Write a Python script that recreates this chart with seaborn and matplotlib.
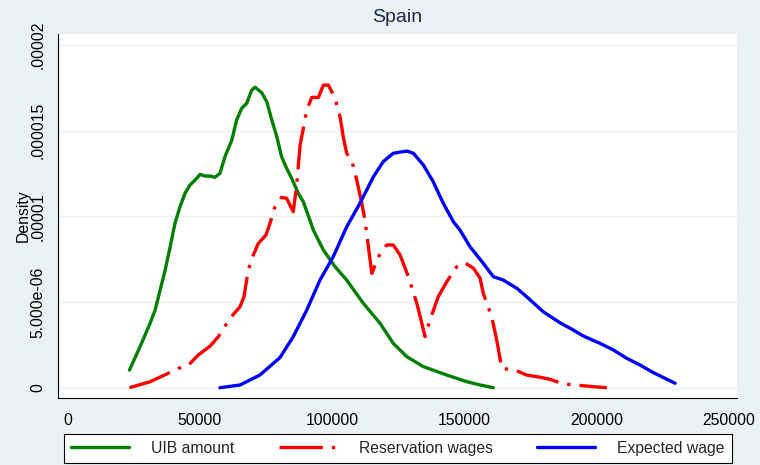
import numpy as np
import seaborn as sns
import matplotlib
matplotlib.use("Agg")
import matplotlib.pyplot as plt

# ---------------------------------------------------------------------------
# data (x in thousand euros, density in units of 1e-6)
# ---------------------------------------------------------------------------
uib_x = [23.4, 27.4, 31.2, 33.1, 35.0, 36.9, 38.8, 40.6, 42.5, 44.4, 46.3, 48.2,
         50.1, 52.0, 53.9, 55.7, 57.6, 59.5, 62.1, 63.9, 65.8, 67.7, 69.6, 70.9,
         73.4, 75.3, 77.2, 79.1, 80.9, 82.8, 84.7, 87.2, 89.1, 91.6, 92.9, 96.7,
         101.1, 105.5, 111.8, 118.1, 123.1, 128.2, 134.5, 143.3, 150.9, 155.9, 160.9]
uib_d = [1.03, 2.39, 3.76, 4.53, 5.70, 6.87, 8.23, 9.59, 10.56, 11.34, 11.83, 12.12,
         12.45, 12.35, 12.35, 12.28, 12.51, 13.48, 14.45, 15.62, 16.30, 16.59, 17.37, 17.53,
         17.21, 16.69, 15.62, 14.64, 13.48, 12.80, 12.22, 11.34, 10.85, 9.78, 9.20, 8.03,
         7.06, 6.28, 4.92, 3.76, 2.59, 1.81, 1.23, 0.74, 0.35, 0.16, 0.0]

res_x = [23.4, 31.2, 37.5, 41.9, 45.7, 49.4, 53.9, 57.0, 61.4, 65.2, 66.7, 68.3,
         70.2, 72.1, 75.0, 76.5, 78.4, 80.9, 82.8, 85.3, 86.6, 87.9, 89.1, 90.4,
         92.3, 94.8, 96.7, 98.6, 101.1, 103.0, 104.2, 105.5, 107.4, 109.3, 111.2, 112.4,
         113.7, 115.0, 117.5, 120.6, 123.1, 125.7, 128.8, 132.0, 133.9, 135.1, 137.0, 140.1,
         143.3, 147.1, 150.2, 153.4, 155.9, 157.1, 160.3, 162.2, 164.1, 169.1, 173.5, 178.6,
         182.3, 187.4, 191.8, 198.7, 203.8]
res_d = [0.0, 0.35, 0.80, 1.13, 1.32, 1.91, 2.43, 2.98, 4.05, 4.73, 5.31, 6.87,
         7.74, 8.42, 8.91, 9.59, 10.56, 11.11, 11.05, 10.27, 11.83, 14.16, 15.13, 16.20,
         16.94, 16.94, 17.66, 17.66, 16.88, 15.81, 14.64, 13.68, 13.28, 12.12, 10.76, 9.78,
         8.23, 6.67, 7.64, 8.33, 8.33, 7.74, 6.48, 4.92, 3.76, 2.98, 3.95, 5.31,
         6.18, 7.06, 7.29, 6.97, 6.40, 5.51, 4.14, 2.78, 1.13, 1.03, 0.74, 0.61,
         0.49, 0.22, 0.16, 0.06, 0.0]

exp_x = [57.6, 65.2, 72.7, 80.3, 85.3, 90.4, 95.4, 100.4, 105.5, 110.5, 115.6, 119.3,
         123.1, 128.2, 130.7, 134.5, 138.2, 142.0, 145.8, 148.3, 152.1, 157.1, 160.9, 164.7,
         169.8, 173.5, 179.8, 186.1, 191.1, 194.9, 201.2, 206.3, 211.3, 216.4, 221.4, 229.6]
exp_d = [0.0, 0.16, 0.74, 1.76, 2.98, 4.53, 6.28, 7.64, 9.39, 10.76, 12.31, 13.19,
         13.68, 13.81, 13.68, 12.99, 12.02, 10.76, 9.69, 9.20, 8.23, 7.26, 6.48, 6.28,
         5.80, 5.31, 4.43, 3.79, 3.37, 3.02, 2.59, 2.20, 1.72, 1.32, 0.88, 0.26]

x_ticks = [0, 50000, 100000, 150000, 200000, 250000]
y_ticks = [0, 5e-6, 1e-5, 1.5e-5, 2e-5]
y_ticklabels = ["0", "5.000e-06", ".00001", ".000015", ".00002"]

# ---------------------------------------------------------------------------
# style (Stata s2color look)
# ---------------------------------------------------------------------------
BG = "#eaf2f3"
sns.set_style("white")
plt.rcParams["font.family"] = ["Liberation Sans", "DejaVu Sans"]

fig = plt.figure(figsize=(7.6, 4.65), dpi=100, facecolor=BG)
ax = fig.add_axes([58 / 760, 1 - 398 / 465, 679 / 760, 364 / 465])
ax.set_facecolor("white")

series = [
    (uib_x, uib_d, "UIB amount", "#008000", "-"),
    (res_x, res_d, "Reservation wages", "#ff0000", (0, (13, 2.7, 1, 2.7))),
    (exp_x, exp_d, "Expected wage", "#0000ff", "-"),
]
for xs, ds, name, col, ls in series:
    sns.lineplot(x=np.array(xs) * 1000, y=np.array(ds) * 1e-6, ax=ax,
                 estimator=None, sort=False, color=col, linewidth=2.4,
                 linestyle=ls, label=name)

ax.set_xlim(-3600, 253000)
ax.set_ylim(-0.60e-6, 20.64e-6)
ax.set_xticks(x_ticks)
ax.set_xticklabels([str(t) for t in x_ticks])
ax.set_yticks(y_ticks)
ax.set_yticklabels(y_ticklabels, rotation=90, va="center")
ax.tick_params(axis="both", direction="out", length=3.6, width=0.8,
               color="black", labelsize=11.3, labelcolor="black")
ax.tick_params(axis="y", pad=5.5)
ax.tick_params(axis="x", pad=7.5)

ax.yaxis.grid(True, color=BG, linewidth=1.0)
ax.xaxis.grid(False)
sns.despine(ax=ax, top=True, right=True)
for s in ["left", "bottom"]:
    ax.spines[s].set_color("black")
    ax.spines[s].set_linewidth(0.8)

ax.set_xlabel("")
ax.set_ylabel("Density", fontsize=11.3, color="black")
ax.yaxis.set_label_coords(-0.040, 0.5)

fig.text(397.5 / 760, 1 - 17 / 465, "Spain", ha="center", va="center",
         fontsize=14, color="#1a2a4a")

leg = ax.legend(loc="lower left", ncol=3, mode="expand",
                bbox_to_anchor=(64 / 760, 1 - 463 / 465, 668 / 760, 30 / 465),
                bbox_transform=fig.transFigure, borderaxespad=0,
                fontsize=11.3, handlelength=3.7, handletextpad=1.4,
                frameon=True, fancybox=False, edgecolor="black",
                facecolor="white", framealpha=1, borderpad=0.45)
leg.get_frame().set_linewidth(0.8)

fig.savefig("out.png", dpi=100, facecolor=BG)
